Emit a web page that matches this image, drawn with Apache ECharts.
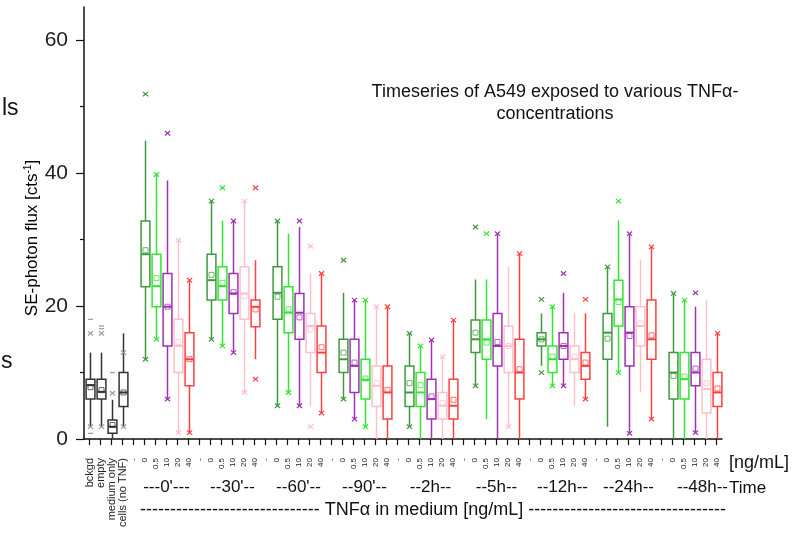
<!DOCTYPE html>
<html><head><meta charset="utf-8">
<script src="https://cdn.jsdelivr.net/npm/echarts@6/dist/echarts.min.js"></script>
<style>html,body{margin:0;padding:0;background:#fff}#c{width:800px;height:540px}</style>
</head><body><div id="c"></div>
<script>
const FONT = '"Liberation Sans", Arial, Helvetica, sans-serif';

// ---- labels ----
const controlLabels = ['bckgd', 'empty', 'medium only', 'cells (no TNF)'];
const concLabels = ['0', '0.5', '10', '20', '40'];
const timeLabels = ["---0'---", "--30'--", "--60'--", "--90'--", "--2h--", "--5h--", "--12h--", "--24h--", "--48h--"];
const yTickValues = [0, 20, 40, 60];
const yMinorValues = [10, 30, 50];

// colours: 0 dark green, 1 light green, 2 purple, 3 pink, 4 red, 5 control
const palette = ['#3f9a3f', '#33e633', '#a030b4', '#ffc0cb', '#ff4040', '#333333'];
const markPalette = ['#3f9a3f', '#33e633', '#a030b4', '#ffc0cb', '#ff4040', '#9a9a9a'];

// ---- controls: [low whisker, Q1, median, Q3, high whisker] ----
const controlBoxes = [[1.85, 6.0, 8.1, 9.0, 13.0], [1.85, 6.0, 7.1, 9.0, 13.0], [0.1, 0.85, 1.85, 2.86, 5.9], [1.85, 4.9, 7.0, 10.0, 15.9]];
const controlMeans = [7.8, 7.35, 2.1, 7.0];
const controlCross = [[1.85, 15.9], [1.85, 15.9], [6.9], [1.85, 13.0]];
const controlDash = [[0.85, 18.0], [17.0, 16.6], [10.0], []];

// ---- time groups (5 concentrations each) ----
const box0min = [[12.0, 22.9, 27.8, 32.8, 44.9], [15.0, 19.9, 23.0, 27.8, 39.8], [6.0, 14.0, 19.9, 24.9, 38.9], [0.95, 10.0, 14.0, 18.0, 29.9], [0.95, 8.0, 12.0, 16.0, 23.9]];
const mean0min = [28.4, 24.2, 19.9, 14.6, 12.0];
const cross0min = [[12.0, 51.9], [15.0, 39.8], [6.0, 46.0], [0.95, 29.9], [0.95, 23.9]];

const box30min = [[15.0, 20.9, 23.9, 27.8, 35.8], [14.0, 20.9, 23.0, 25.9, 32.8], [13.0, 18.9, 21.9, 24.9, 32.8], [7.0, 18.0, 21.9, 25.9, 35.8], [12.0, 16.9, 19.9, 20.9, 26.9]];
const mean30min = [24.7, 23.5, 22.1, 21.5, 19.5];
const cross30min = [[15.0, 35.8], [14.0, 37.8], [13.0, 32.8], [7.0, 35.8], [9.0, 37.8]];

const box60min = [[5.0, 18.0, 22.0, 25.9, 32.8], [7.0, 16.0, 19.0, 22.9, 30.9], [5.0, 15.0, 19.0, 21.9, 31.9], [4.9, 13.0, 17.0, 18.9, 24.9], [3.9, 10.0, 13.0, 17.0, 24.9]];
const mean60min = [21.4, 19.5, 18.3, 16.5, 13.8];
const cross60min = [[5.0, 32.8], [7.0], [5.0, 32.8], [1.85, 29.0], [3.9, 24.9]];

const box90min = [[6.0, 10.0, 12.0, 15.0, 22.0], [3.0, 7.0, 11.0, 15.0, 20.9], [1.85, 6.0, 8.9, 12.0, 20.9], [0, 4.9, 8.0, 11.0, 19.9], [0, 3.0, 7.0, 11.0, 19.9]];
const mean90min = [13.0, 11.5, 9.1, 8.4, 7.4];
const cross90min = [[6.0, 26.9], [3.0, 20.9], [1.85, 20.9], [19.9], [19.9]];

const box2h = [[1.85, 4.9, 7.0, 11.0, 15.9], [0, 4.9, 7.0, 10.0, 14.0], [0, 3.0, 6.0, 9.0, 14.9], [0, 3.0, 5.0, 7.0, 12.4], [0, 3.0, 5.0, 9.0, 17.9]];
const mean2h = [8.4, 8.1, 6.4, 5.4, 5.9];
const cross2h = [[1.85, 15.9], [14.0], [14.9], [12.4], [17.9]];

const box5h = [[8.0, 13.0, 15.0, 17.9, 24.0], [3.0, 12.0, 15.0, 17.9, 24.0], [0, 11.0, 14.0, 18.9, 30.9], [1.85, 10.0, 14.0, 17.0, 25.9], [0, 6.0, 10.0, 15.0, 27.9]];
const mean5h = [16.0, 14.5, 14.6, 14.0, 10.5];
const cross5h = [[8.0, 31.9], [30.9], [30.9], [1.85], [27.9]];

const box12h = [[11.0, 14.0, 15.0, 16.0, 18.9], [8.0, 10.0, 12.0, 14.0, 19.9], [8.0, 12.0, 14.0, 16.0, 22.0], [5.0, 10.0, 12.0, 14.0, 18.9], [6.0, 9.0, 11.0, 13.0, 18.9]];
const mean12h = [15.0, 12.4, 14.0, 12.4, 11.5];
const cross12h = [[10.0, 21.0], [8.0, 19.9], [8.0, 24.9], [], [6.0, 21.0]];

const box24h = [[1.85, 12.0, 16.0, 18.9, 25.9], [10.0, 17.0, 21.0, 23.9, 32.9], [0.85, 11.0, 16.0, 19.9, 30.9], [7.0, 14.0, 17.0, 19.9, 26.9], [3.0, 12.0, 15.0, 20.9, 28.9]];
const mean24h = [15.1, 20.6, 15.5, 17.4, 15.6];
const cross24h = [[25.9], [10.0, 35.8], [0.85, 30.9], [], [3.0, 28.9]];

const box48h = [[0, 6.0, 10.0, 13.0, 21.9], [0, 6.0, 9.0, 13.0, 20.9], [0.95, 8.0, 10.0, 13.0, 19.9], [0, 3.9, 7.5, 12.0, 20.9], [0, 4.9, 7.0, 10.0, 15.9]];
const mean48h = [9.5, 9.4, 10.6, 8.4, 7.6];
const cross48h = [[21.9], [20.9], [0.95, 22.0], [], [15.9]];

const groupBoxes = [box0min, box30min, box60min, box90min, box2h, box5h, box12h, box24h, box48h];
const groupMeans = [mean0min, mean30min, mean60min, mean90min, mean2h, mean5h, mean12h, mean24h, mean48h];
const groupCross = [cross0min, cross30min, cross60min, cross90min, cross2h, cross5h, cross12h, cross24h, cross48h];
const groupColorOrder = [[0,1,2,3,4],[0,1,2,3,4],[0,1,2,3,4],[0,2,1,3,4],[0,1,2,3,4],[0,1,2,3,4],[0,1,2,3,4],[0,1,2,3,4],[0,1,2,3,4]];

// ---- build category slots ----
const slots = [];
controlLabels.forEach((l, i) => slots.push({ key: 'c' + i, kind: 'ctrl', label: l }));
timeLabels.forEach((t, g) => {
  slots.push({ key: 'gap' + g, kind: 'gap', label: '-' });
  concLabels.forEach((c, j) => slots.push({ key: 'g' + g + '_' + j, kind: 'conc', label: c, group: g, conc: j }));
});
const catKeys = slots.map(s => s.key);

const boxData = [], crossData = [], dashData = [];
controlBoxes.forEach((b, i) => {
  boxData.push([i, ...b, controlMeans[i], 5]);
  controlCross[i].forEach(v => crossData.push([i, v, 5]));
  controlDash[i].forEach(v => dashData.push([i, v, 5]));
});
slots.forEach((s, idx) => {
  if (s.kind !== 'conc') return;
  const b = groupBoxes[s.group][s.conc];
  const col = groupColorOrder[s.group][s.conc];
  boxData.push([idx, ...b, groupMeans[s.group][s.conc], col]);
  groupCross[s.group][s.conc].forEach(v => crossData.push([idx, v, col]));
});

function renderBox(params, api) {
  const x = api.value(0);
  const lo = api.coord([x, api.value(1)]);
  const q1 = api.coord([x, api.value(2)]);
  const md = api.coord([x, api.value(3)]);
  const q3 = api.coord([x, api.value(4)]);
  const hi = api.coord([x, api.value(5)]);
  const mn = api.coord([x, api.value(6)]);
  const color = palette[api.value(7)];
  const w = api.size([1, 0])[0] * 0.8;
  const cx = Math.round(lo[0]) + 0.5;
  const lw = 1.5;
  return {
    type: 'group', children: [
      { type: 'line', shape: { x1: cx, y1: hi[1], x2: cx, y2: q3[1] }, style: { stroke: color, lineWidth: lw } },
      { type: 'line', shape: { x1: cx, y1: q1[1], x2: cx, y2: lo[1] }, style: { stroke: color, lineWidth: lw } },
      { type: 'rect', shape: { x: cx - w / 2, y: q3[1], width: w, height: q1[1] - q3[1] }, style: { stroke: color, fill: 'none', lineWidth: lw } },
      { type: 'line', shape: { x1: cx - w / 2, y1: md[1], x2: cx + w / 2, y2: md[1] }, style: { stroke: color, lineWidth: 2 } },
      { type: 'rect', shape: { x: cx - 2.5, y: mn[1] - 2.5, width: 5, height: 5 }, style: { stroke: color, fill: 'none', lineWidth: 1, opacity: 0.75 } }
    ]
  };
}
function renderCross(params, api) {
  const p = api.coord([api.value(0), api.value(1)]);
  const color = markPalette[api.value(2)];
  const cx = Math.round(p[0]) + 0.5, cy = p[1], a = 2.6, b = 2.2;
  return {
    type: 'group', children: [
      { type: 'line', shape: { x1: cx - a, y1: cy - b, x2: cx + a, y2: cy + b }, style: { stroke: color, lineWidth: 1.2 } },
      { type: 'line', shape: { x1: cx - a, y1: cy + b, x2: cx + a, y2: cy - b }, style: { stroke: color, lineWidth: 1.2 } }
    ]
  };
}
function renderDash(params, api) {
  const p = api.coord([api.value(0), api.value(1)]);
  const color = markPalette[api.value(2)];
  const cx = Math.round(p[0]) + 0.5;
  return { type: 'line', shape: { x1: cx - 2.5, y1: p[1], x2: cx + 2.5, y2: p[1] }, style: { stroke: color, lineWidth: 1.2 } };
}

const chart = echarts.init(document.getElementById('c'), null, { renderer: 'canvas' });
const groupCenterIdx = {};
slots.forEach((s, i) => { if (s.kind === 'conc' && s.conc === 2) groupCenterIdx[i] = { text: timeLabels[s.group], last: s.group === timeLabels.length - 1 }; });

chart.setOption({
  animation: false,
  backgroundColor: '#fff',
  textStyle: { fontFamily: FONT },
  grid: { left: 84, right: 78, top: 7, bottom: 101, containLabel: false },
  xAxis: [{
    type: 'category', data: catKeys, boundaryGap: true,
    axisLine: { show: true, lineStyle: { color: '#111', width: 1.5 } },
    axisTick: { show: true, interval: 0, alignWithLabel: true, length: 6, lineStyle: { color: '#111', width: 1.2 } },
    axisLabel: {
      interval: 0, rotate: 90, margin: 19, color: '#222',
      formatter: (v, i) => { const s = slots[i]; return s.kind === 'ctrl' ? '{c|' + s.label + '}' : '{n|' + s.label + '}'; },
      rich: { c: { fontSize: 11, fontFamily: FONT, color: '#222' }, n: { fontSize: 8, fontFamily: FONT, color: '#222' } }
    },
    splitLine: { show: false }
  }, {
    type: 'category', data: catKeys, boundaryGap: true, position: 'bottom',
    axisLine: { show: false }, axisTick: { show: false },
    axisLabel: {
      interval: 0, margin: 40, color: '#111',
      formatter: (v, i) => { const g = groupCenterIdx[i]; if (!g) return ''; return g.last ? '{e|' + g.text + '}' : '{t|' + g.text + '}'; },
      rich: {
        t: { fontSize: 17, fontFamily: FONT, color: '#111' },
        e: { fontSize: 17, fontFamily: FONT, color: '#111', padding: [0, 0, 0, 16] }
      }
    }
  }],
  yAxis: [{
    type: 'value', min: 0, max: 65, interval: 20,
    axisLine: { show: true, lineStyle: { color: '#111', width: 1.5 } },
    axisTick: { show: true, customValues: yTickValues, length: 8, lineStyle: { color: '#111', width: 1.2 } },
    axisLabel: { customValues: yTickValues, margin: 16, fontSize: 21, fontFamily: FONT, color: '#222' },
    splitLine: { show: false }
  }, {
    type: 'value', min: 0, max: 65, interval: 10, position: 'left',
    axisLine: { show: false },
    axisTick: { show: true, customValues: yMinorValues, length: 4, lineStyle: { color: '#111', width: 1.2 } },
    axisLabel: { show: false }, splitLine: { show: false }
  }],
  series: [
    { type: 'custom', renderItem: renderBox, data: boxData, encode: { x: 0, y: [1, 2, 3, 4, 5] }, xAxisIndex: 0, yAxisIndex: 0, clip: false, z: 3 },
    { type: 'custom', renderItem: renderCross, data: crossData, encode: { x: 0, y: 1 }, xAxisIndex: 0, yAxisIndex: 0, z: 4 },
    { type: 'custom', renderItem: renderDash, data: dashData, encode: { x: 0, y: 1 }, xAxisIndex: 0, yAxisIndex: 0, z: 4 }
  ],
  graphic: [
    { type: 'text', x: 555, y: 81, style: { text: 'Timeseries of A549 exposed to various TNFα-\nconcentrations', font: '18px ' + FONT, fill: '#111', textAlign: 'center', textVerticalAlign: 'top', lineHeight: 22 } },
    { type: 'text', x: 32, y: 238, rotation: Math.PI / 2, style: {
        text: '{a|SE-photon flux [cts}{s|-1}{a|]}', textAlign: 'center', textVerticalAlign: 'middle',
        rich: { a: { fontSize: 17, fontFamily: FONT, color: '#111' }, s: { fontSize: 10, fontFamily: FONT, color: '#111', verticalAlign: 'top' } } } },
    { type: 'text', x: 729, y: 463, style: { text: '[ng/mL]', font: '18px ' + FONT, fill: '#111', textAlign: 'left', textVerticalAlign: 'middle' } },
    { type: 'text', x: 729, y: 488, style: { text: 'Time', font: '17px ' + FONT, fill: '#111', textAlign: 'left', textVerticalAlign: 'middle' } },
    { type: 'text', x: 433, y: 510, style: { text: '------------------------------ TNFα in medium [ng/mL] ---------------------------------', font: '18px ' + FONT, fill: '#111', textAlign: 'center', textVerticalAlign: 'middle' } },
    { type: 'text', x: 2, y: 120, style: { text: 'ls', font: '23px ' + FONT, fill: '#111', textAlign: 'left', textVerticalAlign: 'bottom' } },
    { type: 'text', x: 1, y: 373, style: { text: 's', font: '23px ' + FONT, fill: '#111', textAlign: 'left', textVerticalAlign: 'bottom' } }
  ]
});
</script></body></html>
